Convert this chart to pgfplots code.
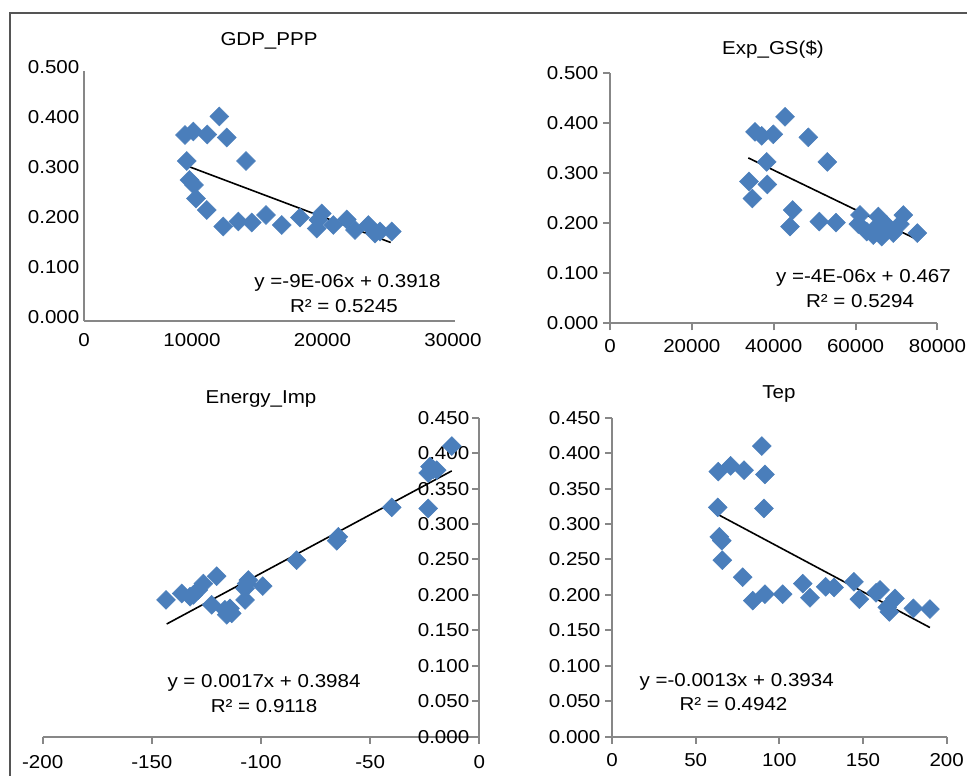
\documentclass[border=0pt]{standalone}
\usepackage{pgfplots}
\pgfplotsset{compat=1.18}
\usepackage{fontspec}
\setmainfont{Liberation Sans}[FakeStretch=1.1]

\definecolor{ptblue}{HTML}{4A7EBB}
\definecolor{axgray}{HTML}{878787}
\definecolor{framegray}{HTML}{555555}
\newcommand\cf{\fontsize{14}{16.8}\selectfont}

\pgfplotsset{
  panel/.style={
    scale only axis,
    anchor=south west,
    axis x line=bottom, axis y line=left,
    axis line style={draw=axgray, line width=1.5pt, -},
    tick style={draw=axgray, line width=1.5pt},
    tick align=outside,
    major tick length=5.25pt,
    tick label style={font=\cf},
    /pgf/number format/assume math mode=true,
    scaled ticks=false,
    xticklabel style={/pgf/number format/1000 sep={}, yshift=-3pt},
    yticklabel style={/pgf/number format/fixed,
      /pgf/number format/fixed zerofill, /pgf/number format/precision=3},
    clip=false,
  },
  pts/.style={only marks, mark=square*, mark size=5pt,
    mark options={rotate=45, fill=ptblue, draw=ptblue}},
  trend/.style={black, line width=1.2pt, no marks},
}

\begin{document}
\begin{tikzpicture}[x=0.75pt, y=0.75pt]
\useasboundingbox (0,0) rectangle (967,776);

% GDP_PPP
\begin{axis}[panel, at={(63pt,341.25pt)}, width=278.25pt, height=187.5pt,
  xmin=1724, xmax=30153, ymin=0, ymax=0.5,
  xtick={1724,10000,20000,30000}, xticklabels={0,10000,20000,30000},
  xticklabel style={yshift=-3pt}, yticklabel style={yshift=3pt},
  ytick={0,0.1,0.2,0.3,0.4,0.5}, major tick length=0pt]
\addplot[pts] coordinates {
  (12092,0.409) (9464,0.372) (10100,0.379) (11172,0.373) (12659,0.367)
  (14138,0.320) (9594,0.320) (9808,0.282) (10153,0.272) (10307,0.245)
  (11126,0.222) (12398,0.189) (13548,0.199) (14575,0.197) (15670,0.212)
  (16874,0.192) (18276,0.207) (19678,0.202) (19939,0.215) (19556,0.185)
  (20828,0.192) (21854,0.203) (22490,0.182) (23510,0.192) (24023,0.175)
  (24406,0.179) (25303,0.179)};
\addplot[trend] coordinates {(9540,0.311) (25226,0.157)};
\end{axis}

% Exp_GS($)
\begin{axis}[panel, at={(457.5pt,339.525pt)}, width=245.6pt, height=187.95pt,
  xmin=0, xmax=80000, ymin=0, ymax=0.5,
  xtick={0,20000,40000,60000,80000},
  ytick={0,0.1,0.2,0.3,0.4,0.5}]
\addplot[pts] coordinates {
  (42753,0.412) (35424,0.382) (37060,0.374) (39894,0.377) (48447,0.371)
  (38281,0.322) (53087,0.322) (33958,0.283) (38431,0.277) (34765,0.249)
  (44633,0.226) (43974,0.193) (51133,0.203) (55212,0.201) (61075,0.216)
  (60660,0.198) (62713,0.183) (65547,0.213) (65156,0.193) (66769,0.183)
  (67599,0.196) (69212,0.180) (71654,0.216) (70847,0.198) (64325,0.176)
  (75070,0.180) (66370,0.173)};
\addplot[trend] coordinates {(33786,0.330) (75070,0.167)};
\end{axis}

% Energy_Imp
\begin{axis}[panel, at={(32.025pt,29.475pt)}, width=327.45pt, height=239.25pt,
  axis y line=right, axis line style={-}, ytick align=inside,
  yticklabel style={anchor=east, xshift=-4pt},
  xticklabel style={yshift=-2pt},
  xmin=-200, xmax=0, ymin=0, ymax=0.45,
  xtick={-200,-150,-100,-50,0},
  ytick={0,0.05,0.1,0.15,0.2,0.25,0.3,0.35,0.4,0.45}]
\addplot[pts] coordinates {
  (-12.6,0.410) (-22.6,0.381) (-21.1,0.377) (-23.4,0.372) (-19.5,0.376)
  (-40.1,0.3235) (-23.4,0.322) (-64.6,0.282) (-65.3,0.2765) (-83.7,0.249)
  (-120.3,0.2265) (-99.2,0.2125) (-106.6,0.216) (-107.3,0.209) (-105.8,0.221)
  (-107.3,0.193) (-126.4,0.216) (-128.7,0.207) (-143.5,0.193) (-136.3,0.202)
  (-132.5,0.1975) (-131.0,0.200) (-122.6,0.186) (-116.5,0.179) (-114.2,0.181)
  (-115.7,0.172) (-113.4,0.174)};
\addplot[trend] coordinates {(-143.2,0.159) (-12.6,0.375)};
\end{axis}

% Tep
\begin{axis}[panel, at={(459pt,29.475pt)}, width=251.0pt, height=239.25pt,
  xticklabel style={yshift=-1pt},
  xmin=0, xmax=200, ymin=0, ymax=0.45,
  xtick={0,50,100,150,200},
  ytick={0,0.05,0.1,0.15,0.2,0.25,0.3,0.35,0.4,0.45}]
\addplot[pts] coordinates {
  (89.5,0.410) (63.5,0.374) (70.9,0.382) (78.9,0.376) (91.4,0.370)
  (63.2,0.3235) (90.8,0.322) (64.1,0.282) (65.6,0.2765) (65.9,0.249)
  (78.1,0.225) (84.1,0.192) (91.4,0.201) (102.0,0.201) (114.0,0.216)
  (118.3,0.196) (127.7,0.2115) (132.7,0.2105) (144.6,0.2185) (147.8,0.194)
  (157.8,0.203) (160.2,0.207) (164.5,0.1825) (165.7,0.176) (169.1,0.195)
  (180.1,0.181) (190.0,0.180)};
\addplot[trend] coordinates {(62.9,0.314) (190.0,0.154)};
\end{axis}

% titles and trend equations
\node[font=\cf, anchor=base] at (269,{776-45.5}) {GDP\_PPP};
\node[font=\cf, anchor=base] at (773,{776-55}) {Exp\_GS(\$)};
\node[font=\cf, anchor=base] at (261,{776-403}) {Energy\_Imp};
\node[font=\cf, anchor=base] at (779,{776-398}) {Tep};

\node[font=\cf, anchor=base] at (347.5,{776-287.3}) {y =-9E-06x + 0.3918};
\node[font=\cf, anchor=base] at (344,{776-312.7}) {R² = 0.5245};
\node[font=\cf, anchor=base] at (863.5,{776-282.7}) {y =-4E-06x + 0.467};
\node[font=\cf, anchor=base] at (860,{776-307.3}) {R² = 0.5294};
\node[font=\cf, anchor=base] at (264,{776-687.3}) {y = 0.0017x + 0.3984};
\node[font=\cf, anchor=base] at (264,{776-712.7}) {R² = 0.9118};
\node[font=\cf, anchor=base] at (736.7,{776-686}) {y =-0.0013x + 0.3934};
\node[font=\cf, anchor=base] at (733.5,{776-710}) {R² = 0.4942};

% frame of the figure
\draw[framegray, line width=1.5pt] (967,763) -- (10,763) -- (10,0);
\end{tikzpicture}
\end{document}
